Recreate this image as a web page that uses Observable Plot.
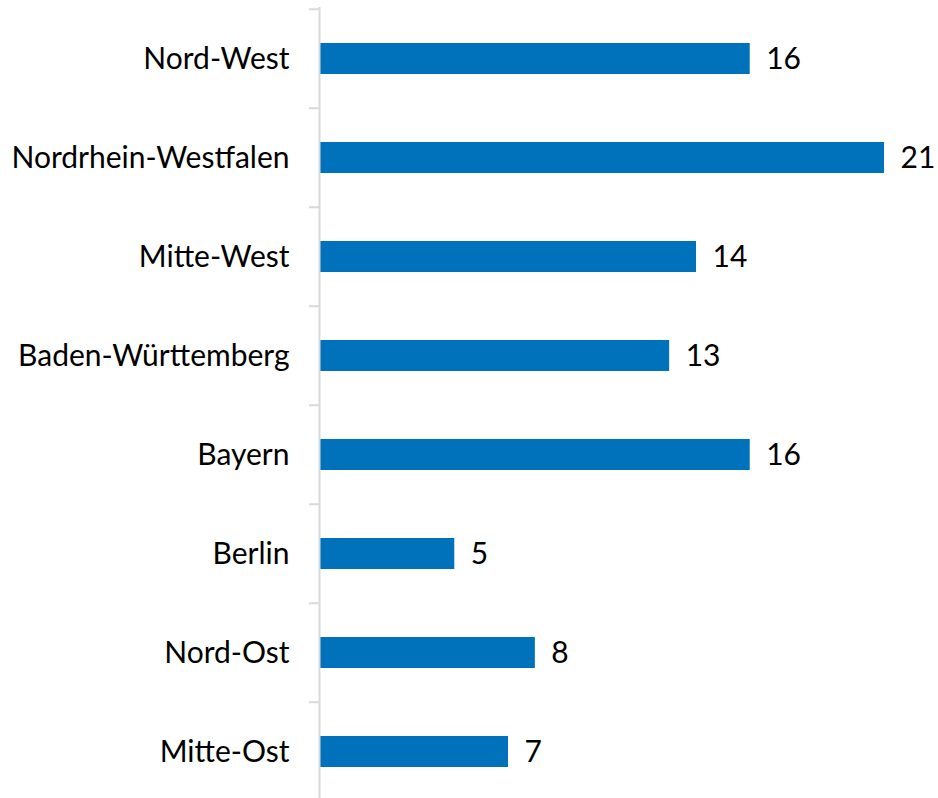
<!DOCTYPE html>
<html><head><meta charset="utf-8">
<script src="https://cdn.jsdelivr.net/npm/d3@7"></script>
<script src="https://cdn.jsdelivr.net/npm/@observablehq/plot@0.6"></script>
<style>body{margin:0;background:#fff} #chart svg{display:block}</style>
</head><body><div id="chart"></div>
<script>
const regions = ["Nord-West","Nordrhein-Westfalen","Mitte-West","Baden-Württemberg","Bayern","Berlin","Nord-Ost","Mitte-Ost"];
const values = [16,21,14,13,16,5,8,7];
const data = regions.map((r,i)=>({region:r,value:values[i]}));
const step = (803-7)/regions.length;
const chart = Plot.plot({
  width: 938, height: 798,
  marginLeft: 320, marginRight: 54, marginTop: 7, marginBottom: -5,
  style: {fontFamily: "Lato", fontSize: "30px", color:"#000", background:"#fff"},
  x: {domain:[0,21], axis:null},
  y: {domain: regions, paddingInner: 0.69, paddingOuter: 0.345, label: null},
  marks: [
    Plot.barX(data, {x:"value", y:"region", fill:"#0072BC"}),
    Plot.text(data, {x:"value", y:"region", text: d=>String(d.value), textAnchor:"start", dx:16, fill:"#000", fontSize: 30}),
    Plot.axisY({tickSize:0, tickPadding:31, fontSize:30, label:null}),
    Plot.axisY({tickSize:10, tickFormat:()=>"", dy:-step/2, dx:-1, stroke:"#d9d9d9", strokeWidth:2, label:null}),
    Plot.ruleX([0], {stroke:"#d9d9d9", strokeWidth:2, dx:-1})
  ]
});
document.getElementById("chart").append(chart);
</script>
</body></html>
